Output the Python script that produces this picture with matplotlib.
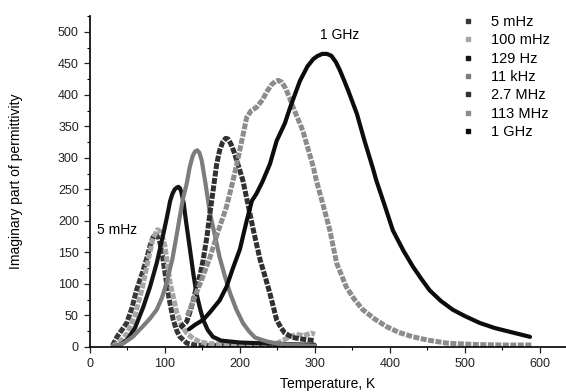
import matplotlib
matplotlib.use("Agg")
import matplotlib.pyplot as plt
from matplotlib.lines import Line2D
from matplotlib.ticker import MultipleLocator

plt.rcParams['font.family'] = ['Liberation Sans', 'DejaVu Sans']

# values
t_5m = [30, 36, 42, 49, 56, 62, 70, 76, 80, 84, 88, 92, 96, 100, 105, 111, 116, 120, 129, 140, 160, 200, 250, 300]
e_5m = [2, 16, 26, 38, 62, 90, 118, 142, 160, 174, 178, 172, 150, 118, 80, 43, 25, 16, 6, 3, 2, 2, 2, 3]

t_100m = [30, 40, 50, 60, 70, 78, 84, 90, 95, 100, 104, 107, 112, 116, 122, 129, 138, 147, 160, 200, 250, 265, 275, 285, 295, 300]
e_100m = [1, 8, 22, 50, 95, 140, 172, 186, 182, 160, 125, 101, 75, 54, 35, 22, 13, 8, 5, 4, 6, 15, 20, 18, 22, 20]

t_129 = [38, 50, 60, 71, 80, 89, 98, 103, 107, 110, 113, 116, 118, 120, 122, 125, 128, 133, 138, 142, 147, 151, 157, 164, 175, 200, 250, 300]
e_129 = [1, 12, 30, 63, 95, 133, 180, 208, 232, 243, 250, 253, 254, 252, 245, 228, 200, 158, 115, 85, 60, 43, 27, 16, 10, 7, 5, 3]

t_11k = [30, 45, 57, 70, 80, 89, 96, 102, 110, 116, 120, 124, 129, 133, 137, 140, 143, 146, 149, 154, 160, 167, 173, 180, 187, 195, 204, 212, 220, 235, 250, 275, 300]
e_11k = [1, 6, 16, 32, 45, 59, 78, 101, 140, 180, 208, 235, 259, 285, 303, 310, 312, 308, 296, 260, 212, 175, 142, 112, 85, 60, 38, 25, 15, 9, 5, 3, 2]

t_27M = [120, 129, 133, 138, 142, 147, 151, 156, 160, 165, 169, 173, 177, 181, 184, 188, 192, 196, 204, 211, 218, 227, 234, 240, 249, 255, 260, 270, 285, 300]
e_27M = [30, 40, 54, 75, 95, 115, 138, 175, 212, 255, 290, 312, 325, 331, 330, 322, 310, 295, 264, 225, 185, 138, 110, 85, 43, 30, 22, 15, 12, 10]

t_113M = [130, 140, 150, 160, 170, 182, 190, 196, 203, 209, 215, 222, 230, 236, 242, 247, 251, 256, 261, 266, 271, 284, 298, 302, 311, 320, 329, 342, 353, 364, 380, 396, 412, 431, 450, 476, 510, 550, 590]
e_113M = [50, 80, 110, 142, 180, 222, 260, 291, 330, 364, 375, 380, 392, 405, 416, 421, 423, 420, 410, 396, 380, 343, 285, 264, 225, 185, 133, 95, 75, 59, 44, 32, 23, 16, 11, 6, 4, 3, 3]

t_1G = [132, 140, 151, 160, 173, 182, 191, 200, 209, 216, 222, 230, 240, 249, 260, 267, 280, 290, 298, 304, 310, 316, 322, 328, 333, 340, 345, 356, 366, 377, 382, 393, 404, 418, 431, 442, 453, 468, 484, 500, 520, 540, 560, 587]
e_1G = [28, 35, 43, 55, 74, 95, 126, 155, 200, 232, 243, 262, 290, 327, 355, 380, 422, 445, 457, 462, 465, 465, 462, 452, 440, 420, 405, 370, 328, 285, 264, 225, 185, 153, 127, 108, 90, 73, 59, 49, 38, 30, 24, 16]

labels = ['5 mHz', '100 mHz', '129 Hz', '11 kHz', '2.7 MHz', '113 MHz', '1 GHz']

series = [
    (t_5m, e_5m, '#383838', True),
    (t_100m, e_100m, '#a6a6a6', True),
    (t_129, e_129, '#141414', False),
    (t_11k, e_11k, '#7c7c7c', False),
    (t_27M, e_27M, '#303030', True),
    (t_113M, e_113M, '#8c8c8c', True),
    (t_1G, e_1G, '#0c0c0c', False),
]

fig = plt.figure(figsize=(5.66, 3.92), dpi=100)
ax = fig.add_axes([0.159, 0.115, 0.841, 0.844])

handles = []
for (t, e, col, squares), lab in zip(series, labels):
    if squares:
        ax.plot(t, e, color=col, lw=3.6, dashes=(1.2, 0.3), dash_capstyle='butt',
                dash_joinstyle='round')
    else:
        ax.plot(t, e, color=col, lw=3.0, solid_capstyle='round', solid_joinstyle='round')
    handles.append(Line2D([], [], marker='s', ls='none', color=col, markersize=3.5))

ax.set_xlim(0, 635)
ax.set_ylim(0, 525)
ax.xaxis.set_major_locator(MultipleLocator(100))
ax.xaxis.set_minor_locator(MultipleLocator(50))
ax.yaxis.set_major_locator(MultipleLocator(50))
ax.yaxis.set_minor_locator(MultipleLocator(25))
ax.tick_params(which='major', length=4, width=0.9, labelsize=9, colors='#222222', pad=4)
ax.tick_params(which='minor', length=2.5, width=0.8)
ax.spines['top'].set_visible(False)
ax.spines['right'].set_visible(False)
for s in ('left', 'bottom'):
    ax.spines[s].set_linewidth(1.2)

ax.set_xlabel('Temperature, K', fontsize=10, labelpad=5)
ax.set_ylabel('Imaginary part of permittivity', fontsize=10, labelpad=25)

ax.text(333, 495, '1 GHz', fontsize=10, ha='center', va='center')
ax.text(9, 186, '5 mHz', fontsize=10, ha='left', va='center')

ax.legend(handles=handles, labels=labels, loc='upper right', frameon=False,
          fontsize=10.5, handlelength=0.8, handletextpad=1.2, labelspacing=0.3,
          bbox_to_anchor=(0.985, 1.03), borderaxespad=0.2)

fig.savefig('out.png', dpi=100)
